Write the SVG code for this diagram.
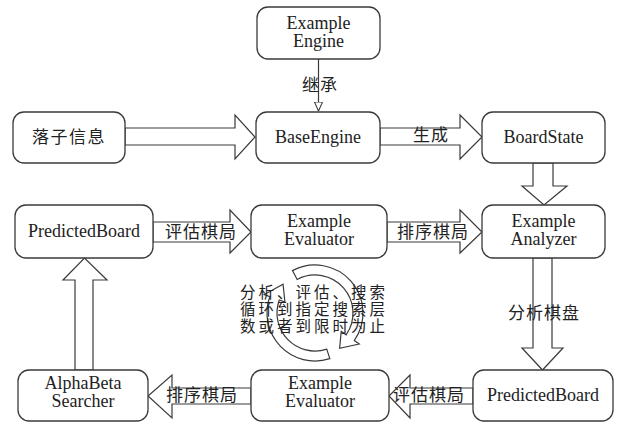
<svg xmlns="http://www.w3.org/2000/svg" width="620" height="423" viewBox="0 0 620 423">
  <defs>
    <style>
      .box { fill: #ffffff; stroke: #3a3a3a; stroke-width: 1.3; }
      .blk { fill: #ffffff; stroke: #3a3a3a; stroke-width: 1.2; stroke-linejoin: miter; }
      .ln { fill: none; stroke: #3a3a3a; stroke-width: 1.2; }
    </style>
    <marker id="hollow" viewBox="0 0 10 10" refX="10" refY="5" markerWidth="9" markerHeight="9" markerUnits="userSpaceOnUse" orient="auto">
      <path d="M0,0.5 L10,5 L0,9.5 Z" fill="#ffffff" stroke="#3a3a3a" stroke-width="1.2"/>
    </marker>
  </defs>
  <rect width="620" height="423" fill="#ffffff"/>

  <g id="connectors">
    <line class="ln" x1="318.5" y1="59" x2="318.5" y2="111" marker-end="url(#hollow)"/>
    <polygon class="blk" points="125,128 235,128 235,115 255,137 235,159 235,145 125,145"/>
    <polygon class="blk" points="380,128 460,128 460,115 482,137 460,159 460,145 380,145"/>
    <polygon class="blk" points="533,163 533,186 522,186 544,205 567,186 553,186 553,163"/>
    <polygon class="blk" points="153,222 230,222 230,210 251,232 230,253 230,242 153,242"/>
    <polygon class="blk" points="387,222 460,222 460,210 482,232 460,253 460,242 387,242"/>
    <polygon class="blk" points="533,258 533,348 522,348 542.5,370 563,348 552,348 552,258"/>
    <polygon class="blk" points="473,388 410,388 410,375 389,396 410,418 410,404 473,404"/>
    <polygon class="blk" points="251,388 172,388 172,375 148,396 172,418 172,404 251,404"/>
    <polygon class="blk" points="75,370 75,280 63,280 84.5,258 107,280 93,280 93,370"/>
  </g>

  <g id="connector-labels" font-family="Noto Sans CJK SC, Noto Sans CJK JP, sans-serif" font-size="17" fill="#222222" text-anchor="middle" letter-spacing="1">
    <text x="320" y="91">继承</text>
    <text x="431" y="141">生成</text>
    <text x="201" y="238">评估棋局</text>
    <text x="433" y="238">排序棋局</text>
    <text x="544" y="319">分析棋盘</text>
    <text x="429" y="401">评估棋局</text>
    <text x="202" y="401">排序棋局</text>
  </g>

  <g id="nodes" font-family="Liberation Serif, Times New Roman, serif" font-size="18" fill="#222222" text-anchor="middle">
    <g id="node-example-engine">
      <rect class="box" x="257" y="7" width="123" height="52" rx="11"/>
      <text x="318.5" y="29">Example</text>
      <text x="318.5" y="47">Engine</text>
    </g>
    <g id="node-luozi">
      <rect class="box" x="13" y="112" width="112" height="51" rx="11"/>
      <text x="69" y="143" font-family="Noto Sans CJK SC, Noto Sans CJK JP, sans-serif" font-size="17" letter-spacing="1.5">落子信息</text>
    </g>
    <g id="node-base-engine">
      <rect class="box" x="256" y="112" width="124" height="51" rx="11"/>
      <text x="318" y="143">BaseEngine</text>
    </g>
    <g id="node-board-state">
      <rect class="box" x="482" y="112" width="123" height="51" rx="11"/>
      <text x="543.5" y="143">BoardState</text>
    </g>
    <g id="node-predicted-board-top">
      <rect class="box" x="15" y="205" width="138" height="53" rx="11"/>
      <text x="84" y="237">PredictedBoard</text>
    </g>
    <g id="node-evaluator-top">
      <rect class="box" x="251" y="205" width="136" height="53" rx="11"/>
      <text x="319" y="227">Example</text>
      <text x="319" y="245">Evaluator</text>
    </g>
    <g id="node-analyzer">
      <rect class="box" x="482" y="205" width="123" height="53" rx="11"/>
      <text x="543.5" y="227">Example</text>
      <text x="543.5" y="245">Analyzer</text>
    </g>
    <g id="node-alphabeta">
      <rect class="box" x="18" y="370" width="130" height="51" rx="11"/>
      <text x="83" y="389">AlphaBeta</text>
      <text x="83" y="407">Searcher</text>
    </g>
    <g id="node-evaluator-bottom">
      <rect class="box" x="251" y="370" width="138" height="51" rx="11"/>
      <text x="320" y="389">Example</text>
      <text x="320" y="407">Evaluator</text>
    </g>
    <g id="node-predicted-board-bottom">
      <rect class="box" x="473" y="370" width="140" height="51" rx="11"/>
      <text x="543" y="401">PredictedBoard</text>
    </g>
  </g>

  <g id="cycle">
    <path class="blk" d="M292.46,270.62 A48,48 0 0 1 354.32,340.53 L359.24,343.97 L339.66,348.23 L341.21,331.36 L346.13,334.80 A38,38 0 0 0 297.16,279.45 Z"/>
    <path class="blk" d="M329.83,358.65 A48,48 0 0 1 269.89,296.58 L264.26,294.53 L283.05,284.23 L284.93,302.06 L279.29,300.00 A38,38 0 0 0 326.74,349.14 Z"/>
    <g font-family="Noto Sans CJK SC, Noto Sans CJK JP, sans-serif" font-size="15.5" fill="#222222" text-anchor="middle" letter-spacing="3">
      <text x="314" y="298">分析、评估、搜索</text>
      <text x="314" y="315">循环到指定搜索层</text>
      <text x="314" y="332">数或者到限时为止</text>
    </g>
  </g>
</svg>
